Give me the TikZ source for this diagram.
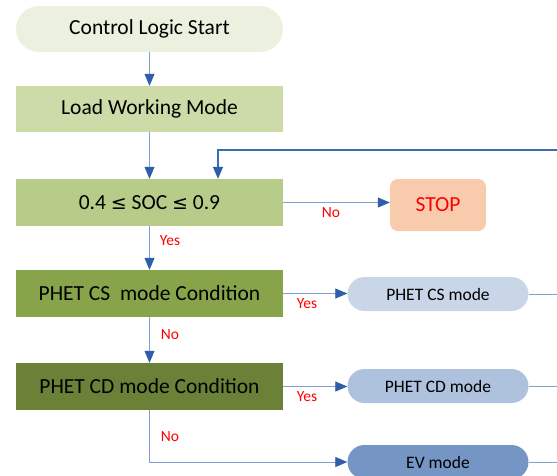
\documentclass[tikz,border=0pt]{standalone}
\usepackage{fontspec}
\setmainfont{Carlito}
\newfontfamily\symfont{DejaVu Sans}
\usetikzlibrary{arrows.meta}
\definecolor{startfill}{HTML}{EBF1DE}
\definecolor{loadfill}{HTML}{CCDBA8}
\definecolor{socfill}{HTML}{B7CC88}
\definecolor{csfill}{HTML}{87A44A}
\definecolor{cdfill}{HTML}{6B8137}
\definecolor{stopfill}{HTML}{F8CBAD}
\definecolor{csmfill}{HTML}{C9D6E8}
\definecolor{cdmfill}{HTML}{AEC1DD}
\definecolor{evfill}{HTML}{7596C4}
\definecolor{lineblue}{HTML}{7FA1D2}
\definecolor{tipblue}{HTML}{2E5EAA}
\definecolor{fbblue}{HTML}{3C6CB6}
\newcommand{\lesym}{{\symfont\fontsize{19}{23}\selectfont ≤}}
\begin{document}
\begin{tikzpicture}[x=1pt,y=-1pt,
  box/.style={rectangle, minimum width=267pt, minimum height=47pt, inner sep=0pt,
    font=\fontsize{21.5}{25}\selectfont},
  pill/.style={rectangle, rounded corners=17pt, minimum width=181pt, minimum height=34pt,
    inner sep=0pt, font=\fontsize{17.5}{21}\selectfont},
  flow/.style={draw=lineblue, line width=0.8pt,
    -{Triangle[length=12pt,width=10pt,color=tipblue]}},
  plain/.style={draw=lineblue, line width=0.8pt},
  fbline/.style={draw=fbblue, line width=1.4pt,
    -{Triangle[length=12pt,width=10pt,color=tipblue]}},
  lbl/.style={text=red, font=\fontsize{15.5}{18}\selectfont, inner sep=0pt}]
\useasboundingbox (0,0) rectangle (557,475);
\clip (0,0) rectangle (557,475);

% main column
\node[box, fill=startfill, rounded corners=23pt, minimum height=46pt] (start) at (149.5,29) {Control Logic Start};
\node[box, fill=loadfill, minimum height=46pt] (load) at (149.5,109) {Load Working Mode};
\node[box, fill=socfill] (soc) at (149.5,202.5) {0.4 \lesym{} SOC \lesym{} 0.9};
\node[box, fill=csfill] (cs) at (149.5,293.5) {PHET CS\ \ mode Condition};
\node[box, fill=cdfill] (cd) at (149.5,386.5) {PHET CD mode Condition};

% right column
\node[rectangle, rounded corners=8pt, fill=stopfill, minimum width=96pt, minimum height=52pt,
  inner sep=0pt, text=red, font=\fontsize{21.5}{25}\selectfont] (stop) at (438,205) {STOP};
\node[pill, fill=csmfill] (csm) at (438,294) {PHET CS mode};
\node[pill, fill=cdmfill] (cdm) at (438,386) {PHET CD mode};
\node[pill, fill=evfill] (ev) at (438,462) {EV mode};

% return path entering from the right
\coordinate (fb) at (557,150);
\coordinate (fbin) at (218,0);

% connectors
\draw[flow] (start) -- (load);
\draw[flow] (load) -- (soc);
\draw[fbline] (fb) -| (soc.north -| fbin);
\draw[flow] (soc.east) -- (soc.east -| stop.west);
\draw[flow] (soc) -- (cs);
\draw[flow] (cs.east) -- (cs.east -| csm.west);
\draw[flow] (cs) -- (cd);
\draw[flow] (cd.east) -- (cd.east -| cdm.west);
\draw[flow] (cd.south) |- (ev.west);
\draw[plain] (csm.east) -- (csm.east -| fb);
\draw[plain] (cdm.east) -- (cdm.east -| fb);
\draw[plain] (ev.east) -- (ev.east -| fb);

% branch labels
\node[lbl] (l1) at (331,213) {No};
\node[lbl] (l2) at (170,241) {Yes};
\node[lbl] (l3) at (307,304) {Yes};
\node[lbl] (l4) at (170,335) {No};
\node[lbl] (l5) at (307,397) {Yes};
\node[lbl] (l6) at (170,437) {No};
\end{tikzpicture}
\end{document}
